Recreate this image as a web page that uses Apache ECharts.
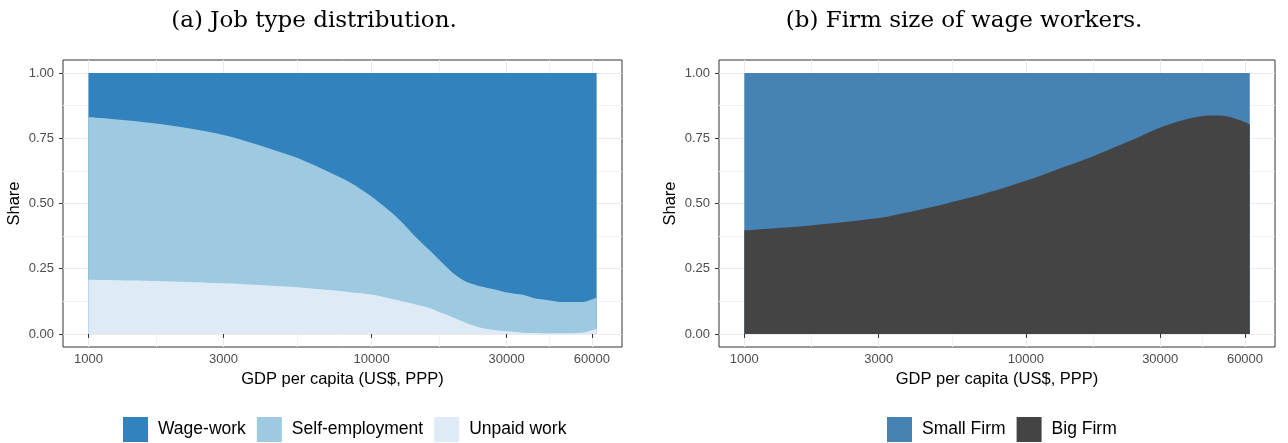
<!DOCTYPE html>
<html>
<head>
<meta charset="utf-8">
<script src="https://cdn.jsdelivr.net/npm/echarts@6/dist/echarts.min.js"></script>
<style>
html,body{margin:0;padding:0;background:#fff;}
#chart{width:1288px;height:443px;}
</style>
</head>
<body>
<div id="chart"></div>
<script>
// ---- Data ----
const xTicks = [1000, 3000, 10000, 30000, 60000];
const xMinor = [1732, 5477, 17321, 42426];
const yTicks = [0, 0.25, 0.5, 0.75, 1];
const yMinor = [0.125, 0.375, 0.625, 0.875];

// Panel (a): job type distribution (shares)
const gdpA = [1000, 1730, 3000, 5300, 7100, 8430, 10000, 12200, 14470, 16000, 17240, 18400, 19750, 21600, 23600, 24600, 26800, 30000, 34300, 37300, 42300, 46700, 55300, 62400];
const wageWork       = [0.168, 0.193, 0.237, 0.320, 0.380, 0.420, 0.473, 0.550, 0.633, 0.678, 0.713, 0.743, 0.773, 0.800, 0.814, 0.819, 0.828, 0.841, 0.850, 0.862, 0.871, 0.878, 0.878, 0.860];
const selfEmployment = [0.624, 0.604, 0.569, 0.500, 0.452, 0.420, 0.376, 0.319, 0.255, 0.223, 0.202, 0.183, 0.167, 0.158, 0.158, 0.158, 0.156, 0.149, 0.145, 0.134, 0.126, 0.119, 0.117, 0.120];
const unpaidWork     = [0.208, 0.203, 0.194, 0.180, 0.168, 0.160, 0.151, 0.131, 0.112, 0.099, 0.085, 0.074, 0.060, 0.042, 0.028, 0.023, 0.016, 0.010, 0.005, 0.004, 0.003, 0.003, 0.005, 0.020];

// Panel (b): firm size of wage workers (shares)
const gdpB = [1000, 1730, 3000, 4000, 5280, 7100, 10000, 12300, 17280, 20950, 25000, 30000, 36300, 42400, 47300, 52900, 57400, 62400];
const bigFirm   = [0.397, 0.416, 0.444, 0.471, 0.501, 0.537, 0.587, 0.622, 0.680, 0.718, 0.753, 0.791, 0.820, 0.835, 0.837, 0.832, 0.820, 0.804];
const smallFirm = [0.603, 0.584, 0.556, 0.529, 0.499, 0.463, 0.413, 0.378, 0.320, 0.282, 0.247, 0.209, 0.180, 0.165, 0.163, 0.168, 0.180, 0.196];

const titles = ['(a) Job type distribution.', '(b) Firm size of wage workers.'];
const xTitle = 'GDP per capita (US$, PPP)';
const yTitle = 'Share';

// ---- Build ----
const XMIN = 813, XMAX = 76700, YMIN = -0.05, YMAX = 1.05;
const font = 'Liberation Sans, Arial, sans-serif';

// cumulative (stacked) upper boundaries, bottom-up
function cumulate(list) {
  const out = []; let acc = list[0].map(() => 0);
  list.forEach(arr => { acc = acc.map((v, i) => v + arr[i]); out.push(acc.slice()); });
  return out;
}
const [cumUnpaid, cumSelf, cumWage] = cumulate([unpaidWork, selfEmployment, wageWork]);
const [cumBig, cumSmall] = cumulate([bigFirm, smallFirm]);

function pairs(xs, ys) { return xs.map((x, i) => [x, ys[i]]); }

function majorX(gi) {
  return {
    type: 'log', logBase: 10, gridIndex: gi, min: XMIN, max: XMAX,
    name: xTitle, nameLocation: 'middle', nameGap: 23,
    nameTextStyle: {fontFamily: font, fontSize: 16.5, color: '#000', verticalAlign: 'top'},
    axisLine: {show: false},
    axisTick: {show: true, length: 4, lineStyle: {color: '#333', width: 1}, customValues: xTicks},
    axisLabel: {show: true, margin: 6, fontFamily: font, fontSize: 13, color: '#4d4d4d',
      customValues: xTicks, formatter: v => String(Math.round(v))},
    splitLine: {show: true, lineStyle: {color: '#ebebeb', width: 1}},
    minorTick: {show: false}, minorSplitLine: {show: false}
  };
}
function minorX(gi) {
  return {
    type: 'log', logBase: 10, gridIndex: gi, min: XMIN, max: XMAX, position: 'top',
    axisLine: {show: false},
    axisTick: {show: false, customValues: xMinor},
    axisLabel: {show: false, customValues: xMinor},
    splitLine: {show: true, lineStyle: {color: '#f2f2f2', width: 1}}
  };
}
function majorY(gi) {
  return {
    type: 'value', gridIndex: gi, min: YMIN, max: YMAX,
    name: yTitle, nameLocation: 'middle', nameGap: 40, nameRotate: 90,
    nameTextStyle: {fontFamily: font, fontSize: 16.5, color: '#000'},
    axisLine: {show: false},
    axisTick: {show: true, length: 4, lineStyle: {color: '#333', width: 1}, customValues: yTicks},
    axisLabel: {show: true, margin: 9, fontFamily: font, fontSize: 13, color: '#4d4d4d',
      customValues: yTicks, formatter: v => v.toFixed(2)},
    splitLine: {show: true, lineStyle: {color: '#ebebeb', width: 1}}
  };
}
function minorY(gi) {
  return {
    type: 'value', gridIndex: gi, min: YMIN, max: YMAX, position: 'right',
    axisLine: {show: false},
    axisTick: {show: false, customValues: yMinor},
    axisLabel: {show: false, customValues: yMinor},
    splitLine: {show: true, lineStyle: {color: '#f2f2f2', width: 1}}
  };
}
function area(name, xs, ys, color, xi, yi) {
  return {
    name, type: 'line', xAxisIndex: xi, yAxisIndex: yi,
    data: pairs(xs, ys), smooth: 0.3, symbol: 'none', showSymbol: false,
    lineStyle: {width: 0}, itemStyle: {color},
    areaStyle: {color, opacity: 1, origin: 0}, silent: true, emphasis: {disabled: true}, z: 3
  };
}

const legendText = {fontFamily: font, fontSize: 17.5, color: '#000', padding: [0, 0, 0, 5]};

const chart = echarts.init(document.getElementById('chart'), null, {renderer: 'canvas'});
chart.setOption({
  animation: false,
  backgroundColor: '#fff',
  grid: [
    {left: 63, top: 60, width: 559, height: 287, show: true, borderColor: '#333', borderWidth: 1, backgroundColor: 'transparent', containLabel: false},
    {left: 719, top: 60, width: 556, height: 287, show: true, borderColor: '#333', borderWidth: 1, backgroundColor: 'transparent', containLabel: false}
  ],
  xAxis: [majorX(0), minorX(0), majorX(1), minorX(1)],
  yAxis: [majorY(0), minorY(0), majorY(1), minorY(1)],
  legend: [
    {data: ['Wage-work', 'Self-employment', 'Unpaid work'], left: 123, top: 417, orient: 'horizontal', padding: 0,
     icon: 'rect', itemWidth: 25, itemHeight: 25, itemGap: 11, selectedMode: false,
     itemStyle: {borderWidth: 0}, textStyle: legendText},
    {data: ['Small Firm', 'Big Firm'], left: 887, top: 417, orient: 'horizontal', padding: 0,
     icon: 'rect', itemWidth: 25, itemHeight: 25, itemGap: 11, selectedMode: false,
     itemStyle: {borderWidth: 0}, textStyle: legendText}
  ],
  graphic: [
    {type: 'text', x: 314, y: 21, silent: true, style: {text: titles[0], font: '23px "DejaVu Serif", serif', fill: '#000', textAlign: 'center', textVerticalAlign: 'middle'}},
    {type: 'text', x: 964, y: 21, silent: true, style: {text: titles[1], font: '23px "DejaVu Serif", serif', fill: '#000', textAlign: 'center', textVerticalAlign: 'middle'}}
  ],
  series: [
    area('Wage-work', gdpA, cumWage, '#3182bd', 0, 0),
    area('Self-employment', gdpA, cumSelf, '#9ecae1', 0, 0),
    area('Unpaid work', gdpA, cumUnpaid, '#deebf7', 0, 0),
    area('Small Firm', gdpB, cumSmall, '#4682b4', 2, 2),
    area('Big Firm', gdpB, cumBig, '#444444', 2, 2)
  ]
});
</script>
</body>
</html>
